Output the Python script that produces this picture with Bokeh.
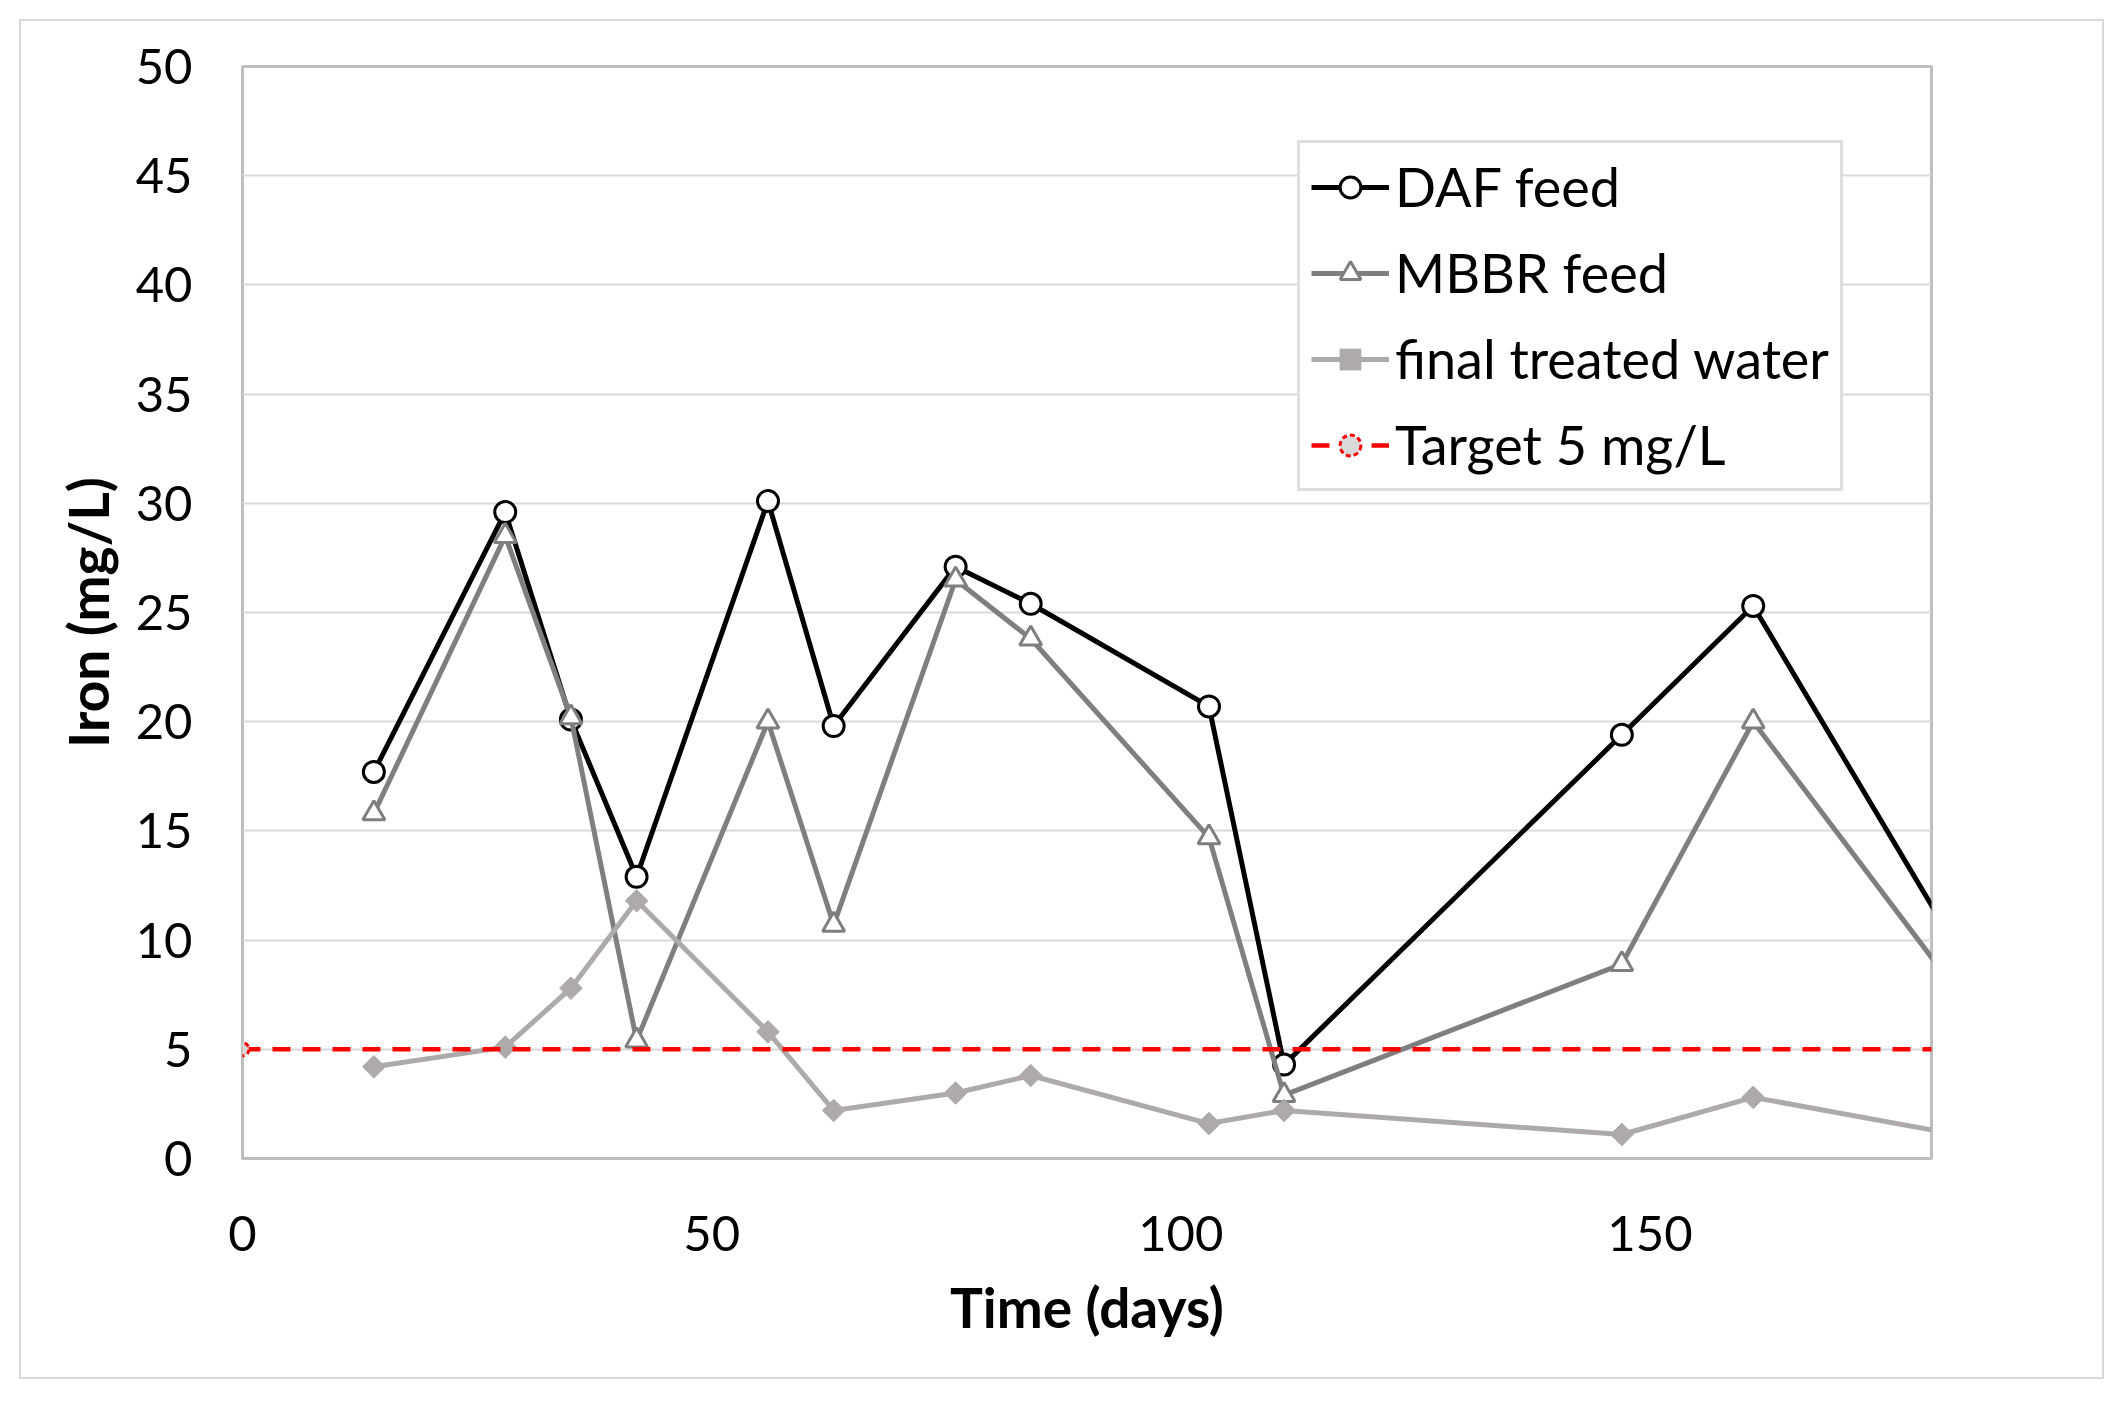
import math
from bokeh.plotting import figure
from bokeh.models import Range1d, FixedTicker, Legend, LegendItem
from bokeh.embed import file_html
from bokeh.resources import INLINE

# ---- data ----
days = [14, 28, 35, 42, 56, 63, 76, 84, 103, 111, 147, 161, 189]
daf_feed = [17.7, 29.6, 20.1, 12.9, 30.1, 19.8, 27.1, 25.4, 20.7, 4.3, 19.4, 25.3, 5.1]
mbbr_feed = [15.8, 28.5, 20.2, 5.4, 20.0, 10.7, 26.5, 23.8, 14.7, 2.9, 8.9, 20.0, 4.1]
final_water = [4.2, 5.1, 7.8, 11.8, 5.8, 2.2, 3.0, 3.8, 1.6, 2.2, 1.1, 2.8, 0.6]
target_days = [0, 200]
target_values = [5, 5]
x_ticks = [0, 50, 100, 150]
y_ticks = [0, 5, 10, 15, 20, 25, 30, 35, 40, 45, 50]

FONT = "Lato"

p = figure(width=2081, height=1356, output_backend="svg", toolbar_location=None,
           x_range=Range1d(0, 180), y_range=Range1d(0, 50),
           min_border_left=221, min_border_right=171, min_border_top=45, min_border_bottom=219)
p.margin = (21, 21, 21, 21)
p.styles = {"outline": "2px solid #d9d9d9"}

p.outline_line_color = "#bfbfbf"
p.outline_line_width = 3
p.background_fill_color = "white"
p.border_fill_color = "white"

p.xgrid.grid_line_color = None
p.ygrid.grid_line_color = "#d9d9d9"
p.ygrid.grid_line_width = 2

p.xaxis.ticker = FixedTicker(ticks=x_ticks)
p.yaxis.ticker = FixedTicker(ticks=y_ticks)
for ax in (p.xaxis, p.yaxis):
    ax.axis_line_color = None
    ax.major_tick_line_color = None
    ax.minor_tick_line_color = None
    ax.major_label_text_font = FONT
    ax.major_label_text_font_size = "49px"
    ax.major_label_text_color = "black"
    ax.axis_label_text_font = FONT
    ax.axis_label_text_font_style = "bold"
    ax.axis_label_text_font_size = "55px"
    ax.axis_label_text_color = "black"
p.xaxis.major_label_standoff = 51
p.yaxis.major_label_standoff = 44
p.xaxis.axis_label = "Time (days)"
p.yaxis.axis_label = "Iron (mg/L)"
p.xaxis.axis_label_standoff = 20
p.yaxis.axis_label_standoff = 12

GRAY2 = "#aeaaaa"

# DAF feed
l1 = p.line(days, daf_feed, line_color="black", line_width=5)
m1 = p.scatter(days, daf_feed, marker="circle", size=21, fill_color="white", line_color="black", line_width=3)
# MBBR feed
l2 = p.line(days, mbbr_feed, line_color="#7f7f7f", line_width=5)
m2 = p.scatter(days, mbbr_feed, marker="triangle", size=22, fill_color="white", line_color="#7f7f7f", line_width=3)
# final treated water
l3 = p.line(days, final_water, line_color=GRAY2, line_width=5)
m3 = p.scatter(days, final_water, marker="square", angle=math.pi / 4, size=16,
               fill_color=GRAY2, line_color=GRAY2, line_width=1)
# target
l4 = p.line(target_days, target_values, line_color="#ff0000", line_width=4.5, line_dash="18 12")
m4 = p.scatter(target_days, target_values, marker="circle", size=13, fill_color="#d9d9d9",
               line_color="#ff0000", line_width=3, line_dash="5 3")

legend = Legend(items=[
    LegendItem(label="DAF feed", renderers=[l1, m1]),
    LegendItem(label="MBBR feed", renderers=[l2, m2]),
    LegendItem(label="final treated water", renderers=[l3, m3]),
    LegendItem(label="Target 5 mg/L", renderers=[l4, m4]),
], location=(1055, 667))
legend.label_text_font = FONT
legend.label_text_font_size = "54px"
legend.label_text_color = "black"
legend.border_line_color = "#bfbfbf"
legend.border_line_width = 3
legend.glyph_width = 78
legend.glyph_height = 52
legend.label_height = 52
legend.spacing = 21
legend.padding = 11
legend.margin = 0
legend.label_standoff = 6
legend.background_fill_alpha = 1
p.add_layout(legend)

open("out.html", "w").write(file_html(p, INLINE))
